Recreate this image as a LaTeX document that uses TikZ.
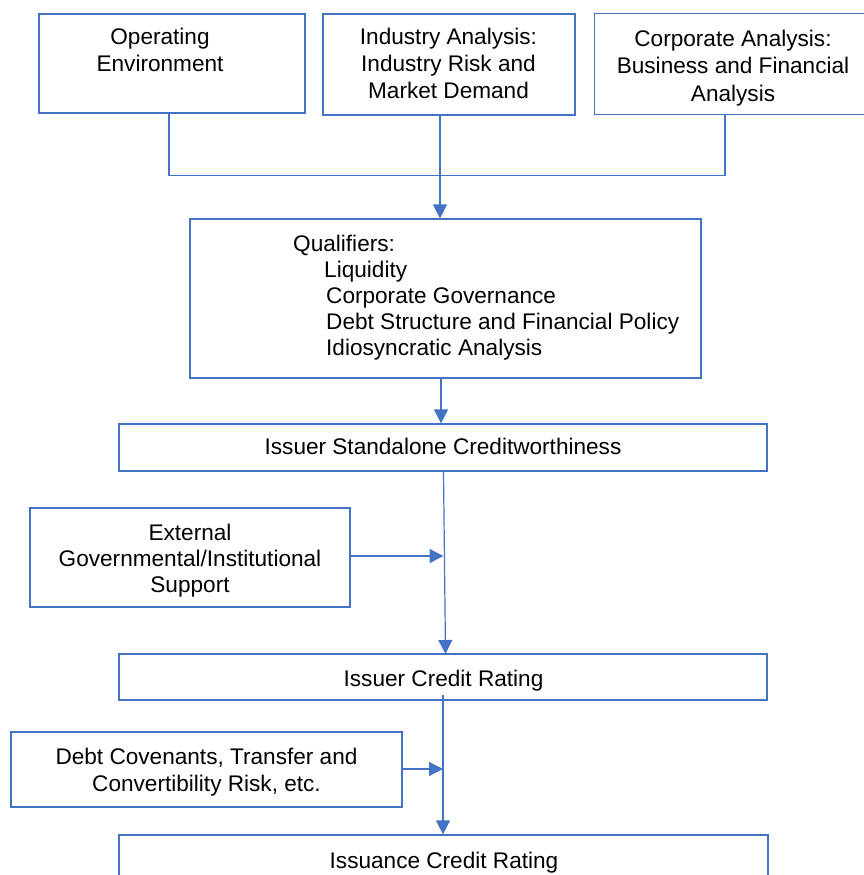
\documentclass[tikz,border=0pt]{standalone}
\usepackage{fontspec}
\setmainfont{Liberation Sans}
\usetikzlibrary{arrows.meta}
\definecolor{edge}{HTML}{4472C4}
\begin{document}
\begin{tikzpicture}[x=1pt,y=-1pt,
  box/.style={draw=edge, line width=1.2pt, inner sep=0pt, fill=none},
  txt/.style={inner sep=0pt, anchor=base, font=\fontsize{22.6}{26}\selectfont},
  ltxt/.style={inner sep=0pt, anchor=base west, font=\fontsize{22.6}{26}\selectfont},
  conn/.style={draw=edge, line width=1.2pt},
  arr/.style={conn, -{Triangle[length=14pt,width=14pt]}}]
\useasboundingbox (0,0) rectangle (863,875);
% boxes
\node[box, minimum width=266pt, minimum height=99pt] (b1) at (172,63.5) {};
\node[box, minimum width=252pt, minimum height=101pt] (b2) at (449,64.5) {};
\node[inner sep=0pt, minimum width=280pt, minimum height=100pt] (b3) at (735,64) {};
\draw[conn] (b3.north east) -- (b3.north west) -- (b3.south west) -- (b3.south east);
\node[box, minimum width=511pt, minimum height=159pt] (q) at (445.5,298.5) {};
\node[box, minimum width=648pt, minimum height=47pt] (s) at (443,447.5) {};
\node[box, minimum width=320pt, minimum height=99pt] (ext) at (190,557.5) {};
\node[box, minimum width=648pt, minimum height=46pt] (icr) at (443,677) {};
\node[box, minimum width=391pt, minimum height=75pt] (dc) at (206.5,769.5) {};
\node[box, minimum width=649pt, minimum height=60pt] (iss) at (443.5,865) {};
% texts
\node[txt] (t1a) at (160,45) {Operating};
\node[txt] (t1b) at (160,71) {Environment};
\node[txt] (t2a) at (448.5,45) {Industry Analysis:};
\node[txt] (t2b) at (448.5,71.5) {Industry Risk and};
\node[txt] (t2c) at (448.5,98) {Market Demand};
\node[txt] (t3a) at (733,47) {Corporate Analysis:};
\node[txt] (t3b) at (733,74) {Business and Financial};
\node[txt] (t3c) at (733,101) {Analysis};
\node[ltxt] (qa) at (293,251) {Qualifiers:};
\node[ltxt] (qb) at (324,277) {Liquidity};
\node[ltxt] (qc) at (326,303) {Corporate Governance};
\node[ltxt] (qd) at (326,329) {Debt Structure and Financial Policy};
\node[ltxt] (qe) at (326,355) {Idiosyncratic Analysis};
\node[txt] (ts) at (443,454) {Issuer Standalone Creditworthiness};
\node[txt] (te1) at (190,540) {External};
\node[txt] (te2) at (190,566) {Governmental/Institutional};
\node[txt] (te3) at (190,592) {Support};
\node[txt] (ti) at (443.5,686) {Issuer Credit Rating};
\node[txt] (td1) at (206.5,764) {Debt Covenants, Transfer and};
\node[txt] (td2) at (206.5,791) {Convertibility Risk, etc.};
\node[txt] (tis) at (444,868) {Issuance Credit Rating};
% connectors
\coordinate (j1) at (169,175.5);
\coordinate (j2) at (725,175.5);
\draw[conn] (b1.south -| j1) -- (j1) -- (j2) -- (b3.south -| j2);
\coordinate (a1) at (440,0);
\draw[arr] (b2.south -| a1) -- (q.north -| a1);
\coordinate (a2) at (441,0);
\draw[arr] (q.south -| a2) -- (s.north -| a2);
\coordinate (m1) at (443.5,556);
\draw[arr] (s.south -| m1) -- (445.5,654) coordinate (m1b);
\draw[arr] (ext.east |- m1) -- (m1);
\coordinate (m2) at (443,769);
\coordinate (m2t) at (443,695);
\draw[arr] (m2t) -- (iss.north -| m2t);
\draw[arr] (dc.east |- m2) -- (m2);
\end{tikzpicture}
\end{document}
